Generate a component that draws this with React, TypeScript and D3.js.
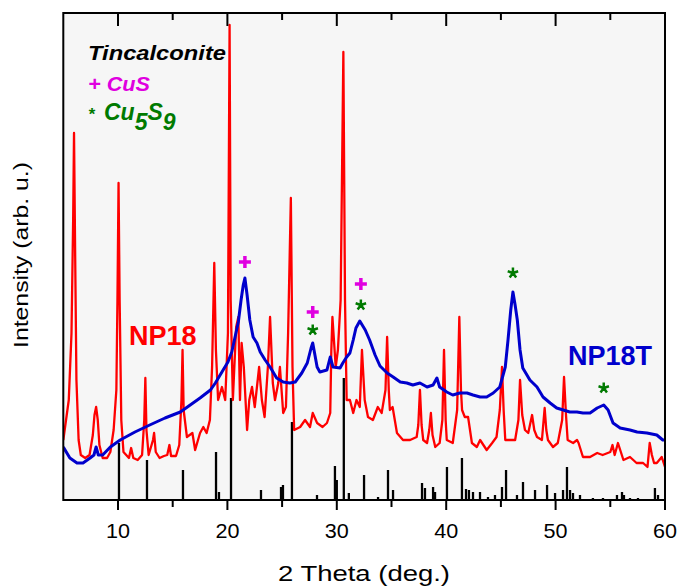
import React from "react";
import * as d3 from "d3";

// 2θ (deg) and intensity (arb. units) for the NP18 pattern (red)
const np18Theta = [
  5.0, 5.5, 5.75, 5.9, 5.98, 6.08, 6.2, 6.4, 6.6, 7.0, 7.4, 7.7, 7.85, 8.0, 8.15, 8.3, 8.6, 9.0, 9.3, 9.6, 9.85, 9.95,
  10.05, 10.15, 10.3, 10.5, 11.0, 11.2, 11.4, 11.8, 12.2, 12.4, 12.5, 12.6, 12.8, 13.2, 13.3, 13.45, 13.8, 14.2, 14.5,
  14.7, 14.85, 15.3, 15.6, 15.8, 15.9, 16.0, 16.3, 16.8, 17.05, 17.5, 17.8, 18.1, 18.4, 18.6, 18.8, 18.95, 19.15, 19.5,
  19.8, 20.05, 20.2, 20.3, 20.5, 20.8, 21.0, 21.15, 21.3, 21.5, 21.8, 22.0, 22.25, 22.5, 22.9, 23.15, 23.4, 23.7, 23.9,
  24.15, 24.35, 24.65, 24.8, 25.1, 25.35, 25.55, 25.8, 25.95, 26.1, 26.65, 27.1, 27.55, 27.8, 28.2, 28.7, 29.1, 29.4,
  29.5, 29.6, 29.9, 30.1, 30.35, 30.6, 30.75, 30.9, 31.2, 31.5, 31.8, 32.1, 32.3, 32.55, 32.85, 33.3, 33.75, 34.1, 34.45,
  34.6, 34.75, 34.85, 35.1, 35.5, 36.05, 36.7, 37.3, 37.45, 37.6, 37.75, 37.9, 38.25, 38.45, 38.6, 38.75, 39.0, 39.4,
  39.65, 39.8, 39.95, 40.05, 40.6, 41.0, 41.2, 41.35, 41.45, 41.7, 42.0, 42.35, 42.8, 43.1, 43.7, 44.2, 44.6, 44.9, 45.1,
  45.25, 45.4, 45.8, 46.3, 46.6, 46.75, 46.95, 47.2, 47.5, 47.85, 48.05, 48.3, 48.75, 49.0, 49.15, 49.3, 49.76, 50.2,
  50.6, 50.77, 50.95, 51.1, 51.6, 51.96, 52.1, 52.5, 53.15, 53.8, 54.3, 55.0, 55.2, 55.4, 55.7, 56.2, 56.8, 57.4, 58.0,
  58.4, 58.6, 58.8, 59.0, 59.25, 59.7, 60.0,
];
const np18Int = [
  60, 100, 167, 280, 367, 250, 120, 60, 45, 42, 45, 65, 85, 93, 80, 55, 42, 42, 48, 70, 110, 200,
  317, 200, 80, 48, 42, 52, 42, 40, 45, 80, 122, 70, 45, 60, 67, 48, 42, 44, 45,
  55, 44, 44, 55, 100, 150, 90, 63, 67, 50, 67, 73, 67, 80, 133, 237, 150, 100, 113,
  100, 167, 475, 200, 100, 173, 183, 100, 157, 133, 70, 100, 113, 93, 133, 100, 83, 133, 183,
  117, 100, 117, 133, 87, 93, 167, 302, 133, 70, 73, 80, 73, 87, 77, 73, 77, 87,
  150, 183, 133, 150, 200, 448, 200, 100, 100, 87, 100, 93, 150, 100, 83, 80, 93, 87, 110,
  163, 110, 90, 93, 67, 60, 60, 63, 75, 110, 75, 60, 57, 70, 87, 65, 53, 57,
  80, 150, 80, 60, 57, 90, 183, 110, 90, 83, 83, 57, 53, 60, 50, 57, 63, 90, 133,
  90, 60, 60, 60, 80, 120, 85, 70, 67, 85, 70, 63, 60, 92, 70, 60, 53, 57,
  80, 123, 85, 60, 57, 60, 57, 43, 43, 47, 45, 48, 55, 45, 57, 40, 43, 37, 37,
  33, 57, 45, 37, 37, 43, 33,
];

// NP18T pattern (blue)
const np18tTheta = [
  5.0, 5.6, 6.25, 6.8, 7.45, 7.8, 8.0, 8.2, 8.6, 9.3, 10.2, 11.55, 12.9, 14.3, 15.7, 16.6, 17.5, 18.45, 18.9, 19.5,
  20.05, 20.4, 20.7, 21.0, 21.25, 21.45, 21.6, 21.8, 22.05, 22.35, 22.7, 23.0, 23.45, 23.9, 24.5, 25.1, 25.7, 26.2,
  26.8, 27.3, 27.65, 27.8, 28.0, 28.2, 28.45, 29.1, 29.4, 29.65, 30.3, 30.55, 30.9, 31.2, 31.5, 31.75, 32.1, 32.6, 33.0,
  33.5, 33.95, 34.6, 35.15, 35.8, 36.4, 36.95, 37.6, 38.25, 38.8, 39.15, 39.4, 40.05, 40.6, 41.25, 41.9, 42.45, 43.1,
  43.7, 44.3, 44.9, 45.4, 45.65, 45.9, 46.1, 46.3, 46.5, 46.75, 47.0, 47.65, 48.3, 48.85, 49.5, 50.1, 50.7, 51.3, 51.95,
  52.5, 53.15, 53.8, 54.4, 54.8, 55.25, 55.9, 56.8, 57.45, 58.35, 59.25, 59.8, 60.0,
];
const np18tInt = [
  53, 42, 37, 37, 42, 45, 53, 45, 45, 53, 60, 68, 75, 82, 88, 95, 102, 110, 117, 128,
  138, 148, 163, 178, 200, 215, 222, 205, 180, 163, 157, 148, 140, 133, 122, 118, 117, 118,
  127, 137, 152, 157, 145, 133, 128, 130, 143, 133, 132, 137, 143, 147, 160, 172, 179, 170, 160,
  145, 134, 127, 123, 118, 117, 115, 117, 113, 115, 122, 113, 108, 105, 107, 107, 105, 103,
  103, 107, 113, 133, 160, 190, 208, 195, 180, 150, 132, 120, 113, 103, 97, 92, 90, 88, 88,
  87, 87, 92, 95, 90, 77, 72, 70, 68, 67, 65, 60, 60,
];

// Tincalconite reference sticks (black)
const refTheta = [
  10.09, 12.65, 15.94, 18.96, 19.23, 20.33, 23.07, 24.9, 25.08, 25.9, 28.19, 29.83, 30.0, 30.64, 31.1, 32.49, 33.77,
  34.68, 35.14, 37.79, 38.06, 38.8, 38.98, 40.07, 41.44, 41.81, 42.08, 42.45, 43.09, 43.82, 44.46, 45.1, 45.47, 46.47,
  47.02, 48.12, 49.22, 49.95, 50.68, 51.04, 51.32, 51.59, 52.23, 53.41, 54.33, 55.61, 56.07, 56.25, 56.8, 57.53, 59.08,
  59.36,
];
const refInt = [
  57, 40, 30, 48, 8, 102, 10, 13, 15, 78, 5, 34, 20, 122, 7, 25, 3,
  30, 10, 17, 12, 13, 8, 33, 42, 11, 10, 8, 8, 3, 5, 13, 30, 5,
  18, 10, 15, 7, 10, 33, 10, 7, 5, 2, 2, 5, 8, 5, 2, 2, 12,
  5,
];

// phase markers
const markTheta = [21.6, 27.8, 27.8, 32.2, 32.2, 46.1, 54.4];
const markInt = [238, 188, 170, 216, 195, 227, 112];
const markKind = ["CuS", "CuS", "Cu5S9", "CuS", "Cu5S9", "Cu5S9", "Cu5S9"];

const xTicksMajor = [10, 20, 30, 40, 50, 60];
const xTicksMinor = [15, 25, 35, 45, 55];

const W = 678;
const H = 587;
const L = 63.3, R = 665, T = 13, B = 500;
const FONT = "'Liberation Sans', Arial, Helvetica, sans-serif";
const RED = "#ff0000";
const BLUE = "#0000cc";
const MAG = "#e000e0";
const GRN = "#007a00";

export default function App() {
  const x = d3.scaleLinear().domain([5, 60]).range([L, R]);
  const y = d3.scaleLinear().domain([0, B - T]).range([B, T]);
  const line = d3
    .line<[number, number]>()
    .x((d) => x(d[0]))
    .y((d) => y(d[1]));
  const redPts = np18Theta.map((t, i) => [t, np18Int[i]] as [number, number]);
  const bluePts = np18tTheta.map((t, i) => [t, np18tInt[i]] as [number, number]);

  const plusPath = "M-6,0L6,0M0,-6L0,6";
  const starPath = [0, 1, 2, 3, 4]
    .map((k) => {
      const a = (-90 + k * 72) * (Math.PI / 180);
      return `M0,0L${(5.5 * Math.cos(a)).toFixed(2)},${(5.5 * Math.sin(a)).toFixed(2)}`;
    })
    .join("");

  return (
    <svg
      width={W}
      height={H}
      style={{ position: "absolute", left: 0, top: 0, background: "#ffffff" }}
      fontFamily={FONT}
    >
      <defs>
        <clipPath id="plotclip">
          <rect x={L} y={T} width={R - L} height={B - T} />
        </clipPath>
      </defs>
      <rect x={L} y={T} width={R - L} height={B - T} fill="#f6f6f6" />
      <g clipPath="url(#plotclip)">
        {refTheta.map((t, i) => (
          <line
            key={"s" + i}
            x1={x(t)}
            x2={x(t)}
            y1={y(0)}
            y2={y(refInt[i])}
            stroke="#000"
            strokeWidth={2.3}
          />
        ))}
        <path d={line(redPts) || ""} fill="none" stroke={RED} strokeWidth={2.3} strokeLinejoin="round" />
        <path d={line(bluePts) || ""} fill="none" stroke={BLUE} strokeWidth={3} strokeLinejoin="round" />
      </g>
      {markTheta.map((t, i) => (
        <path
          key={"m" + i}
          d={markKind[i] === "CuS" ? plusPath : starPath}
          transform={`translate(${x(t)},${y(markInt[i])})`}
          stroke={markKind[i] === "CuS" ? MAG : GRN}
          strokeWidth={markKind[i] === "CuS" ? 3.5 : 2.5}
          strokeLinecap="butt"
          fill="none"
        />
      ))}
      {/* frame */}
      <rect x={L} y={T} width={R - L} height={B - T} fill="none" stroke="#000" strokeWidth={2} />
      {/* ticks */}
      {xTicksMajor.map((t) => (
        <g key={"M" + t}>
          <line x1={x(t)} x2={x(t)} y1={T} y2={T + 13} stroke="#000" strokeWidth={2} />
          <line x1={x(t)} x2={x(t)} y1={B} y2={B + 10} stroke="#000" strokeWidth={2} />
          <text x={x(t)} y={538} textAnchor="middle" fontSize={21} fill="#000" textLength={24} lengthAdjust="spacingAndGlyphs">
            {t}
          </text>
        </g>
      ))}
      {xTicksMinor.map((t) => (
        <g key={"m" + t}>
          <line x1={x(t)} x2={x(t)} y1={T} y2={T + 7} stroke="#000" strokeWidth={2} />
          <line x1={x(t)} x2={x(t)} y1={B} y2={B + 7} stroke="#000" strokeWidth={2} />
        </g>
      ))}
      {/* axis titles */}
      <text x={364} y={581} textAnchor="middle" fontSize={22} textLength={172} lengthAdjust="spacingAndGlyphs" fill="#000">
        2 Theta (deg.)
      </text>
      <text
        transform="translate(28,255) rotate(-90)"
        textAnchor="middle"
        fontSize={21}
        textLength={186}
        lengthAdjust="spacingAndGlyphs"
        fill="#000"
      >
        Intensity (arb. u.)
      </text>
      {/* legend */}
      <text x={88} y={60} fontSize={21} fontWeight="bold" fontStyle="italic" fill="#000" textLength={138} lengthAdjust="spacingAndGlyphs">
        Tincalconite
      </text>
      <text x={88} y={91} fontSize={21} fontWeight="bold" fontStyle="italic" fill={MAG} textLength={62} lengthAdjust="spacingAndGlyphs">
        + CuS
      </text>
      <text x={88} y={120} fontSize={23} fontWeight="bold" fontStyle="italic" fill={GRN}>
        <tspan fontSize={17}>*</tspan>
        <tspan x={104}>Cu</tspan>
        <tspan dy={10}>5</tspan>
        <tspan dy={-10}>S</tspan>
        <tspan dy={10}>9</tspan>
      </text>
      {/* sample labels */}
      <text x={129} y={345} fontSize={27} fontWeight="bold" fill={RED}>
        NP18
      </text>
      <text x={568} y={365} fontSize={27} fontWeight="bold" fill={BLUE}>
        NP18T
      </text>
    </svg>
  );
}
